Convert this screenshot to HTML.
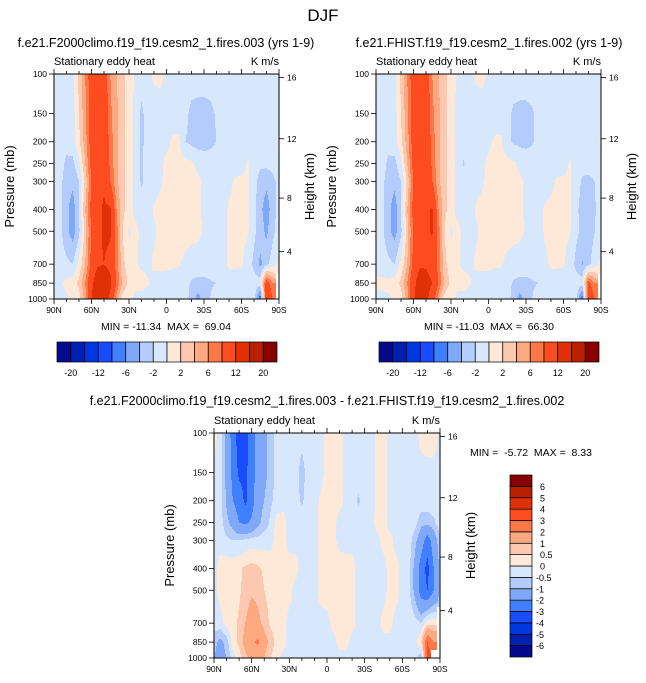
<!DOCTYPE html>
<html><head><meta charset="utf-8"><style>
html,body{margin:0;padding:0;background:#fff;}
svg{display:block;font-family:"Liberation Sans",sans-serif;}
</style></head><body>
<svg id="fig" width="646" height="683" viewBox="0 0 646 683" xmlns="http://www.w3.org/2000/svg"></svg>
<script>
const lats=[90,85,80,75,70,65,60,55,50,45,40,35,30,25,20,15,10,5,0,-5,-10,-15,-20,-25,-30,-35,-40,-45,-50,-55,-60,-65,-70,-75,-80,-85,-90];
const pressures=[100,150,200,250,300,400,500,700,850,1000];
const pTicks=[100,150,200,250,300,400,500,700,850,1000];
const hTickLabels=["16","12","8","4"];
const hTickP=[103.5,194,356,616];
const latTickLabels=["90N","60N","30N","0","30S","60S","90S"];
const latTickVals=[90,60,30,0,-30,-60,-90];
const levelsTop=[-20,-16,-12,-8,-6,-4,-2,0,2,4,6,8,12,16,20];
const levelsDiff=[-6,-5,-4,-3,-2,-1,-0.5,0,0.5,1,2,3,4,5,6];
const cbTopLabels=["-20","-12","-6","-2","2","6","12","20"];
const cbDiffLabels=["6","5","4","3","2","1","0.5","0","-0.5","-1","-2","-3","-4","-5","-6"];
const palette=["#050a8c","#0020b0","#0038e0","#1a4cff","#4080ff","#80a8f8","#b4ccfc","#d8e8fc","#fee8d8","#fcc8b0","#fca880","#fc7848","#fc4c20","#e03008","#b82000","#880000"];

const dataA=[
[0.3,-0.5,-0.8,-0.5,2.5,6,10,11,10,6,4,2.5,1,-0.3,-0.8,-0.5,0.3,0.5,-0.3,-1,-1,-1,-1,-1,-1,-1,-1,-1,-1,-1,-1,-1,-1,-1,-1,-1,-1],
[-0.8,-1,-1,-0.8,2,5.5,9.5,11,10.5,6.5,4.5,2.5,1,-0.5,-2.5,-1,-0.8,-0.8,-0.8,-1,-1,-1.5,-2.5,-2.7,-2.7,-2.5,-1.8,-1,-1,-1,-1,-1,-1,-1,-1,-1,-0.8],
[-0.8,-1,-1.2,-1,1.5,5,9.5,11,11,7,4.5,2.5,1,-0.5,-2.5,-1,-0.8,-0.8,-0.5,0.3,0.3,-2,-2.5,-2.8,-2.8,-2.5,-2,-1,-1,-1,-1,-1,-1,-1,-1,-0.8,0.3],
[-0.8,-1,-2.5,-2.5,-0.5,4,9,11,11,7.5,4.5,2.5,1,-0.5,-2.3,-1,-1,-0.5,0.5,0.8,0.8,0.6,0.3,-0.5,-1,-1,-1,-1,-1,-1,-1,0.3,-1,-1.5,-1.5,-1,-0.5],
[-0.8,-1.5,-3,-3.5,-2,2.5,8.5,11,11.5,8,4.5,2.5,1,-0.5,-2.3,-1.2,-0.8,-0.3,0.6,0.8,0.8,0.8,0.6,0.4,-0.3,-1,-1,-1,-0.5,0.3,0.5,0.3,-1,-3,-3.5,-2.8,-1],
[-1,-1.5,-3.5,-5,-2.2,4,9,11,12.5,12.5,6,2.5,1,-0.5,-0.8,-0.8,0.2,0.6,0.8,0.8,0.8,0.8,0.6,0.4,-0.3,-0.8,-1,-0.8,0.3,0.5,0.5,0.3,-1.5,-3.5,-5,-3,-1],
[-1,-1.5,-3.5,-5,-2.5,3,8.5,11,12.5,12.5,7,2,-0.3,0.6,-0.5,-0.8,-0.3,0.5,0.8,0.8,0.8,0.8,0.7,0.5,-0.3,-0.8,-1,-0.8,0.3,0.5,0.4,0.2,-1.5,-3,-4.5,-2.5,-1],
[-1,-1,-1.5,-2,0.5,4,9,11.5,12,11,7,2.5,1,0.3,-0.5,-0.5,0.3,0.5,0.5,0.3,0.2,-0.5,-1,-1,-1,-1,-0.8,-0.5,0.3,0.3,0.2,-0.8,-2.5,-4.5,-2.5,-1,0.5],
[-0.5,-0.3,0.5,1,2.5,6,11,15,15,13,8,3.5,1.5,0.5,1,0.2,-0.5,-0.8,-1,-1,-1,-1.5,-2.2,-2.5,-2.5,-2.2,-2,-1,-1,-1,-1,-1,-1,-1,10,6,null],
[-0.5,-0.5,-0.3,0.3,1,5,12,16,14,11,5,1,0.5,-0.5,-1,-1,-1,-1,-1,-1,-1,-1.5,-2.5,-5,-3,-2,-1,-1,-1,-1,-1,-1,-1,-8,12,8,null]
];
const dataB=[
[0.3,-0.5,-0.8,-0.5,2.5,6,10,11,10,6,4,2.5,1,-0.3,-0.8,-0.5,0.3,0.5,-0.3,-1,-1,-1,-1,-1,-1,-1,-1,-1,-1,-1,-1,-1,-1,-1,-1,-1,-1],
[-0.8,-1,-1,-0.8,2,5.5,9.5,11,10.5,6.5,4.5,2.5,1,-0.5,-1,-1,-0.8,-0.8,-0.8,-1,-1,-1.5,-2.3,-2.5,-2.5,-2.2,-1.5,-1,-1,-1,-1,-1,-1,-1,-1,-1,-0.8],
[-0.8,-1,-1.2,-1,1.5,5,9.5,11,11,7,4.5,2.5,1,-0.5,-1,-1,-0.8,-0.8,-0.5,0.3,0.3,-1.5,-2.3,-2.5,-2.5,-2.2,-1.5,-1,-1,-1,-1,-1,-1,-1,-1,-0.8,0.3],
[-0.8,-1,-2.5,-2.5,-0.5,4,9,11,11,7.5,4.5,2.5,1,-0.5,-2.2,-1,-1,-0.5,0.5,0.8,0.8,0.6,0.3,-0.5,-1,-1,-1,-1,-1,-1,-1,0.3,-1,-1.2,-1.2,-1,-0.5],
[-0.8,-1.5,-3,-3.5,-2,2.5,8.5,11,11.5,8,4.5,2.5,1,-0.5,-1,-1,-0.8,-0.3,0.6,0.8,0.8,0.8,0.6,0.4,-0.3,-1,-1,-1,-0.5,0.3,0.5,0.3,-1,-2.3,-2.5,-2,-1],
[0.3,-1.5,-3.5,-5,-2.2,4,9,11,11.5,12.3,6,2.5,1,-0.5,-0.8,-0.8,0.2,0.6,0.8,0.8,0.8,0.8,0.6,0.4,-0.3,-0.8,-1,0.3,0.5,0.5,0.5,0.3,-1.5,-2.8,-3.2,-2.2,-1],
[0.3,-1.5,-3.5,-4.8,-2.5,3,8.5,11,11.5,12.3,7,2,-0.3,0.6,-0.5,-0.8,-0.3,0.5,0.8,0.8,0.8,0.8,0.7,0.5,-0.3,-0.8,-1,0.3,0.5,0.5,0.4,0.2,-1.5,-2.5,-3,-2,-1],
[-0.5,-1,-1.5,-2,0.5,4,9,11.5,11.5,10.5,7,2.5,1,0.3,-0.5,-0.5,0.3,0.5,0.5,0.3,0.2,-0.5,-1,-1,-1,-1,-0.8,-0.5,0.3,0.3,0.2,-0.8,-2.5,-4.2,-2.5,-1,0.5],
[0.3,0.5,0.5,1,2.5,6,11,14,13.5,12,8,3.5,1.5,0.5,1,0.2,-0.5,-0.8,-1,-1,-1,-1.5,-2.2,-2.5,-2.5,-2.2,-2,-1,-1,-1,-1,-1,-1,-1,9,6,null],
[-0.5,-0.5,-0.3,0.3,1,5,11,14.5,13,10,5,1,0.5,-0.5,-1,-1,-1,-1,-1,-1,-1,-1.5,-2.5,-5,-3,-2,-1,-1,-1,-1,-1,-1,-1,-8,11,8,null]
];
const dataD=[
[0.3,-0.3,-1.2,-2.5,-3.5,-3.5,-2.5,-1.5,-1.2,-0.8,-0.3,-0.2,-0.2,-0.3,-0.3,-0.2,-0.2,-0.2,0.2,0.3,0.3,-0.2,-0.2,-0.2,-0.3,-0.2,0.1,0.2,-0.2,-0.2,-0.2,-0.2,-0.2,0.2,0.3,0.3,-0.2],
[-0.2,-0.3,-1.2,-2.3,-3.2,-3.2,-2.5,-1.5,-1.2,-0.8,-0.3,-0.2,-0.2,-0.3,-0.7,-0.3,-0.2,-0.2,0.2,0.3,0.2,-0.2,-0.2,-0.2,-0.2,-0.2,0.1,0.2,-0.2,-0.2,-0.2,-0.2,-0.2,-0.2,-0.2,-0.2,-0.2],
[-0.2,-0.3,-1.1,-2,-2.5,-3.2,-2.5,-1.2,-1,-0.6,-0.3,-0.2,-0.2,-0.3,-0.6,-0.2,-0.2,0.1,0.3,0.3,0.2,-0.2,-0.2,-0.6,-0.2,-0.2,0.1,0.2,-0.2,-0.2,-0.2,-0.2,-0.2,-0.2,-0.2,-0.2,-0.2],
[-0.2,-0.3,-0.8,-1.3,-2,-2.2,-1.8,-1.2,-0.8,-0.4,0.2,0.2,-0.2,-0.2,-0.2,-0.2,-0.2,0.2,0.3,0.2,-0.2,-0.2,-0.2,-0.2,-0.2,-0.2,0.2,0.2,-0.2,-0.2,-0.2,-0.2,-0.3,-0.8,-0.8,-0.6,-0.2],
[-0.2,-0.2,-0.4,-0.5,-0.5,-0.4,-0.3,-0.3,-0.2,-0.2,0.2,0.2,-0.2,-0.2,-0.2,-0.2,-0.2,0.2,0.3,0.2,-0.2,-0.2,-0.2,-0.2,-0.2,-0.2,-0.2,0.2,0.2,-0.2,-0.2,-0.2,-0.8,-1.5,-2.5,-1.5,-0.6],
[-0.2,0.2,0.3,0.3,0.4,0.6,0.7,0.6,0.4,0.3,0.3,0.3,0.2,0.2,-0.2,-0.2,-0.2,0.2,0.3,0.3,0.3,0.2,0.2,-0.2,-0.2,-0.2,-0.2,-0.2,0.2,0.2,-0.2,-0.3,-1.2,-2.5,-3.3,-2,-0.8],
[-0.2,0.2,0.3,0.3,0.4,0.7,0.9,0.8,0.5,0.3,0.3,0.3,0.2,-0.2,-0.2,-0.2,-0.2,0.2,0.3,0.3,0.3,0.2,0.2,-0.2,-0.2,-0.2,-0.2,-0.2,0.2,0.2,-0.2,-0.3,-1.2,-2.5,-3,-2,-0.8],
[-0.2,-0.2,0.2,0.3,0.6,1,1.4,1.2,0.8,0.4,0.3,0.2,-0.2,-0.2,-0.2,-0.2,-0.2,-0.2,-0.2,0.2,0.3,0.3,0.2,-0.2,-0.2,-0.2,-0.2,0.2,0.2,-0.2,-0.2,-0.2,-0.3,-0.5,0.3,0.3,null],
[-0.8,-1.2,-0.8,0.3,0.6,1.3,1.8,2.2,1.3,0.8,0.3,0.2,-0.2,-0.2,-0.2,-0.2,-0.2,-0.2,-0.2,-0.2,0.2,0.2,-0.2,-0.2,-0.2,-0.2,-0.2,-0.2,-0.2,-0.2,-0.2,-0.2,-0.2,0.5,3,2,null],
[-1,-1.3,-1,-0.3,0.3,0.8,1.2,1.3,1,0.5,0.2,-0.2,-0.2,-0.2,-0.2,-0.2,-0.2,-0.2,-0.2,-0.2,-0.2,-0.2,-0.2,-0.2,-0.2,-0.2,-0.2,-0.2,-0.2,-0.2,-0.2,-0.2,-0.2,-1,3.5,null,null]
];

const NS="http://www.w3.org/2000/svg";
const svg=document.getElementById('fig');
function mk(tag,attrs,parent,text){const e=document.createElementNS(NS,tag);for(const k in attrs)e.setAttribute(k,attrs[k]);if(text!==undefined)e.textContent=text;(parent||svg).appendChild(e);return e;}
function txt(x,y,s,size,anchor,parent,extra){const t=mk('text',Object.assign({x:x,y:y,'font-size':size,'text-anchor':anchor||'start',fill:'#000'},extra||{}),parent,s);return t;}

function findIdx(arr,v,desc){
  for(let j=0;j<arr.length-1;j++){
    const a=arr[j],b=arr[j+1];
    if((desc&&v<=a&&v>=b)||(!desc&&v>=a&&v<=b)) return [j,(v-a)/(b-a)];
  }
  return [arr.length-2,1];
}
function sample(data,lat,p){
  const [i,fx]=findIdx(lats,lat,true);
  const lp=Math.log(p);
  const lps=pressures.map(Math.log);
  const [k,fy]=findIdx(lps,lp,false);
  const ni=fx<0.5?i:i+1,nk=fy<0.5?k:k+1;
  if(data[nk][ni]===null) return null;
  const pts=[[k,i,(1-fx)*(1-fy)],[k,i+1,fx*(1-fy)],[k+1,i,(1-fx)*fy],[k+1,i+1,fx*fy]];
  let s=0,w=0;
  for(const [r,c,wt] of pts){const v=data[r][c];if(v!==null){s+=v*wt;w+=wt;}}
  return w>0?s/w:null;
}
function colorIdx(v,levels){let n=0;for(const l of levels){if(v>=l)n++;}return n;}

function drawPanel(name,ox,oy,w,h,data,levels){
  const g=mk('g',{},svg);
  
  
  const xOf=lat=>ox+(90-lat)/180*w;
  const yOf=p=>oy+h-h*Math.log(1000/p)/Math.log(10);
  const cg=mk('g',{'shape-rendering':'crispEdges'},g);
  
  
  for(let py=0;py<h;py++){
    const p=1000*Math.pow(10,-(h-py-0.5)/h);
    let runStart=0,runC=null;
    for(let px=0;px<=w;px++){
      let c=null;
      if(px<w){
        const lat=90-(px+0.5)/w*180;
        const v=sample(data,lat,p);
        c=v===null?-1:colorIdx(v,levels);
      }
      if(px===w||c!==runC){
        if(runC!==null&&runC>=0){
          mk('rect',{x:ox+runStart,y:oy+py,width:px-runStart,height:1,fill:palette[runC]},cg);
        }
        runStart=px;runC=c;
      }
    }
  }
  const frame=mk('rect',{x:ox,y:oy,width:w,height:h,fill:'none',stroke:'#000','stroke-width':1},g);
  
  
  for(let lat=90;lat>=-90;lat-=10){
    const x=xOf(lat);const major=lat%30===0;const L=major?5:3;
    mk('line',{x1:x,y1:oy,x2:x,y2:oy-L,stroke:'#000','stroke-width':0.8},g);
    mk('line',{x1:x,y1:oy+h,x2:x,y2:oy+h+L,stroke:'#000','stroke-width':0.8},g);
  }
  latTickLabels.forEach((s,j)=>{const t=txt(xOf(latTickVals[j]),oy+h+14,s,8.5,'middle',g);
    
    });
  pTicks.forEach(p=>{const y=yOf(p);
    mk('line',{x1:ox,y1:y,x2:ox-5,y2:y,stroke:'#000','stroke-width':0.8},g);
    const t=txt(ox-7,y+3,String(p),8.5,'end',g);
    
    });
  hTickP.forEach((p,j)=>{const y=yOf(p);
    mk('line',{x1:ox+w,y1:y,x2:ox+w+5,y2:y,stroke:'#000','stroke-width':0.8},g);
    const t=txt(ox+w+8,y+3,hTickLabels[j],8.5,'start',g);
    
    });
  const yt=txt(0,0,'Pressure (mb)',13,'middle',g,{transform:`translate(${ox-40},${oy+h/2}) rotate(-90)`});
  
  
  const ht=txt(0,0,'Height (km)',13,'middle',g,{transform:`translate(${ox+w+35},${oy+h/2}) rotate(-90)`});
  
  
  const lt=txt(ox,oy-9,'Stationary eddy heat',11,'start',g);
  
  
  const rt=txt(ox+w,oy-9,'K m/s',11,'end',g);
  
  
}

function hColorbar(name,x,y,w,h,labels){
  const g=mk('g',{},svg);
  
  
  const bw=w/palette.length;
  palette.forEach((c,j)=>{const r=mk('rect',{x:x+j*bw,y:y,width:bw,height:h,fill:c,stroke:'#000','stroke-width':0.7},g);
    
    });
  labels.forEach((s,j)=>{const t=txt(x+(2*j+1)*bw,y+h+14,s,9,'middle',g);
    
    });
}
function vColorbar(name,x,y,w,h,labels){
  const g=mk('g',{},svg);
  
  
  const bh=h/palette.length;
  palette.forEach((c,j)=>{const r=mk('rect',{x:x,y:y+(palette.length-1-j)*bh,width:w,height:bh,fill:c,stroke:'#000','stroke-width':0.7},g);
    
    });
  labels.forEach((s,j)=>{const t=txt(s.startsWith('-')?x+w+4:x+w+8,y+(j+1)*bh+3.5,s,9,'start',g);
    
    });
}
const SP='\u00a0';
const t0=txt(323,21,'DJF',17,'middle');



const t1=txt(166,47,'f.e21.F2000climo.f19_f19.cesm2_1.fires.003 (yrs 1-9)',12.5,'middle');


drawPanel('left-panel',54,74,225,225,dataA,levelsTop);
const m1=txt(166,330,'MIN = -11.34'+SP+SP+'MAX = '+SP+'69.04',10.5,'middle');


hColorbar('left-colorbar',57,342,220,20,cbTopLabels);

const t2=txt(489,47,'f.e21.FHIST.f19_f19.cesm2_1.fires.002 (yrs 1-9)',12.5,'middle');


drawPanel('right-panel',376,74,225,225,dataB,levelsTop);
const m2=txt(489,330,'MIN = -11.03'+SP+SP+'MAX = '+SP+'66.30',10.5,'middle');


hColorbar('right-colorbar',379,342,220,20,cbTopLabels);

const t3=txt(327,405,'f.e21.F2000climo.f19_f19.cesm2_1.fires.003 - f.e21.FHIST.f19_f19.cesm2_1.fires.002',12.5,'middle');


drawPanel('diff-panel',214,433,226,225,dataD,levelsDiff);
const m3=txt(470,456,'MIN = '+SP+'-5.72'+SP+SP+'MAX = '+SP+'8.33',10.5,'start');


vColorbar('diff-colorbar',510,475,22,182,cbDiffLabels);
</script>
</body></html>
